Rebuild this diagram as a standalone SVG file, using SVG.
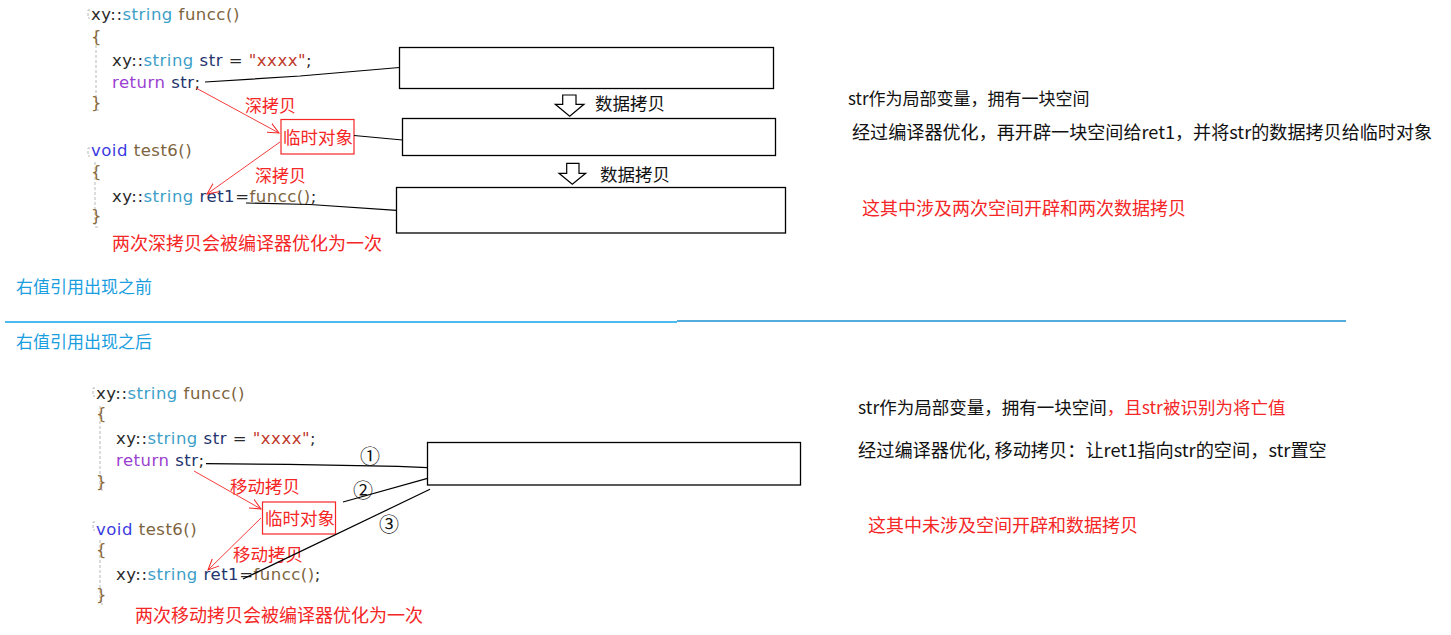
<svg xmlns="http://www.w3.org/2000/svg" width="1451" height="635" viewBox="0 0 1451 635">
<defs>
<style>
.code{font-family:"DejaVu Sans",sans-serif;font-size:16.5px;letter-spacing:0.5px}
.cjk{font-family:"Noto Sans CJK SC","Noto Sans",sans-serif}
.k{fill:#2a2a2a}.ty{fill:#3d9fc7}.fn{fill:#7d6440}.v{fill:#24356e}.s{fill:#c0392b}.ret{fill:#9a3fd0}.vd{fill:#3b3be0}.br{fill:#8a6a3a}
.red{fill:#f42626}
.blue{fill:#1a9ee0}
.box{fill:#fff;stroke:#000;stroke-width:1.3}
.rbox{fill:#fff;stroke:#f42626;stroke-width:1.2}
.conn{fill:none;stroke:#000;stroke-width:1.2}
.rarrow{fill:none;stroke:#f42626;stroke-width:0.9;marker-end:url(#rh)}
.guide{stroke:#b8b8b8;stroke-width:1;stroke-dasharray:3,2;fill:none}
.harrow{fill:#fff;stroke:#000;stroke-width:1.2}
</style>
<marker id="rh" viewBox="0 0 12 12" refX="11" refY="6" markerWidth="12" markerHeight="12" markerUnits="userSpaceOnUse" orient="auto">
<path d="M0,1 L11,6 L0,11" fill="none" stroke="#f42626" stroke-width="1"/>
</marker>
</defs>
<rect width="1451" height="635" fill="#fff"/>

<!-- TOP CODE -->
<g id="code-top">
<path class="guide" d="M90,10 h-2 v8 h2 M96,30 V110 h3 M90,148 h-2 v8 h2 M95,162 V227 h3"/>
<text class="code" x="91" y="20"><tspan class="k">xy::</tspan><tspan class="ty">string</tspan><tspan class="fn"> funcc()</tspan></text>
<text class="code br" x="91" y="42">{</text>
<text class="code" x="112" y="66"><tspan class="k">xy::</tspan><tspan class="ty">string</tspan><tspan class="v"> str</tspan><tspan class="k"> = </tspan><tspan class="s">"xxxx"</tspan><tspan class="k">;</tspan></text>
<text class="code" x="112" y="88"><tspan class="ret">return</tspan><tspan class="v"> str</tspan><tspan class="k">;</tspan></text>
<text class="code br" x="91" y="108">}</text>
<text class="code" x="91" y="156"><tspan class="vd">void</tspan><tspan class="fn"> test6()</tspan></text>
<text class="code br" x="91" y="177">{</text>
<text class="code" x="112" y="202"><tspan class="k">xy::</tspan><tspan class="ty">string</tspan><tspan class="v"> ret1</tspan><tspan class="k">=</tspan><tspan class="fn">funcc()</tspan><tspan class="k">;</tspan></text>
<text class="code br" x="91" y="221">}</text>
</g>

<g id="note-top" class="cjk red" font-size="18"><text x="112" y="250">两次深拷贝会被编译器优化为一次</text></g>

<g id="temp-top">
<rect class="rbox" x="281" y="119.5" width="73" height="34.5"/>
<text class="cjk red" x="283" y="144" font-size="17.5">临时对象</text>
</g>

<g id="labels-top" class="cjk red" font-size="17">
<text x="245" y="112">深拷贝</text>
<text x="255" y="182">深拷贝</text>
</g>

<g id="boxes-top">
<rect id="box1" class="box" x="399.5" y="47.5" width="374" height="41"/>
<rect id="box2" class="box" x="402.5" y="118.5" width="373" height="37"/>
<rect id="box3" class="box" x="396.5" y="187.5" width="389" height="45.5"/>
</g>

<g id="copy-arrows">
<polygon class="harrow" points="562.7,95 576,95 576,104.3 584,104.3 569.7,116.3 555.3,104.3 562.7,104.3"/>
<polygon class="harrow" points="566.7,163.3 579,163.3 579,173.3 585.7,173.3 572.3,184.3 559,173.3 566.7,173.3"/>
<text class="cjk" x="595" y="110" font-size="17.5" fill="#111">数据拷贝</text>
<text class="cjk" x="600" y="181" font-size="17.5" fill="#111">数据拷贝</text>
</g>

<g id="connectors-top">
<polyline class="conn" points="205,82 300,76 399.5,67.5"/>
<line class="conn" x1="354" y1="135.5" x2="402.5" y2="140"/>
<polyline class="conn" points="246,203 310,204.5 396.5,210.3"/>
<line class="rarrow" x1="196" y1="88" x2="279" y2="133"/>
<line class="rarrow" x1="280" y1="142" x2="207" y2="194"/>
</g>

<g id="text-right-top" class="cjk">
<text x="848" y="105" font-size="17" fill="#111">str作为局部变量，拥有一块空间</text>
<text x="852" y="139" font-size="18.1" fill="#111">经过编译器优化，再开辟一块空间给ret1，并将str的数据拷贝给临时对象</text>
<text x="862" y="215" font-size="18" class="red">这其中涉及两次空间开辟和两次数据拷贝</text>
</g>

<!-- SEPARATOR -->
<g id="separator">
<text class="cjk blue" x="16" y="293" font-size="17">右值引用出现之前</text>
<line x1="5" y1="322" x2="677" y2="322" stroke="#12a4ea" stroke-width="1.4"/>
<line x1="677" y1="321" x2="1346" y2="321" stroke="#1a90d2" stroke-width="1.3"/>
<text class="cjk blue" x="16" y="348" font-size="17">右值引用出现之后</text>
</g>

<!-- BOTTOM CODE -->
<g id="code-bottom">
<path class="guide" d="M95,388 h-2 v8 h2 M100,406 V490 h3 M95,522 h-2 v8 h2 M100,540 V604 h3"/>
<text class="code" x="96" y="399"><tspan class="k">xy::</tspan><tspan class="ty">string</tspan><tspan class="fn"> funcc()</tspan></text>
<text class="code br" x="96" y="419">{</text>
<text class="code" x="116" y="444"><tspan class="k">xy::</tspan><tspan class="ty">string</tspan><tspan class="v"> str</tspan><tspan class="k"> = </tspan><tspan class="s">"xxxx"</tspan><tspan class="k">;</tspan></text>
<text class="code" x="116" y="466"><tspan class="ret">return</tspan><tspan class="v"> str</tspan><tspan class="k">;</tspan></text>
<text class="code br" x="96" y="487">}</text>
<text class="code" x="96" y="535"><tspan class="vd">void</tspan><tspan class="fn"> test6()</tspan></text>
<text class="code br" x="96" y="555">{</text>
<text class="code" x="116" y="580"><tspan class="k">xy::</tspan><tspan class="ty">string</tspan><tspan class="v"> ret1</tspan><tspan class="k">=</tspan><tspan class="fn">funcc()</tspan><tspan class="k">;</tspan></text>
<text class="code br" x="96" y="600">}</text>
</g>

<g id="note-bottom" class="cjk red" font-size="18"><text x="135" y="622">两次移动拷贝会被编译器优化为一次</text></g>

<g id="temp-bottom">
<rect class="rbox" x="262.5" y="502" width="73" height="32"/>
<text class="cjk red" x="265" y="525" font-size="17.5">临时对象</text>
</g>

<g id="labels-bottom" class="cjk red" font-size="17.5">
<text x="230" y="493">移动拷贝</text>
<text x="233" y="561">移动拷贝</text>
</g>

<g id="box-bottom">
<rect class="box" x="427.5" y="442.5" width="373" height="42.5"/>
</g>

<g id="connectors-bottom">
<polyline class="conn" points="206,463.7 288,464.3 343,465.3 398,466.3 427.5,467.7"/>
<line class="conn" x1="343" y1="502" x2="427.5" y2="478.3"/>
<line class="conn" x1="243" y1="579" x2="430" y2="489.3"/>
<line class="rarrow" x1="194" y1="471" x2="261" y2="509"/>
<line class="rarrow" x1="261" y1="518" x2="208" y2="570"/>
</g>

<g id="step-numbers" class="cjk" font-size="20" fill="#111" text-anchor="middle" dominant-baseline="central">
<text x="370" y="455">①</text>
<text x="363" y="489">②</text>
<text x="389" y="523">③</text>
</g>

<g id="text-right-bottom" class="cjk">
<text x="858" y="414" font-size="17.5" fill="#111">str作为局部变量，拥有一块空间<tspan class="red">，且str被识别为将亡值</tspan></text>
<text x="858" y="457" font-size="18.2" fill="#111">经过编译器优化, 移动拷贝：让ret1指向str的空间，str置空</text>
<text x="868" y="532" font-size="18" class="red">这其中未涉及空间开辟和数据拷贝</text>
</g>
</svg>
